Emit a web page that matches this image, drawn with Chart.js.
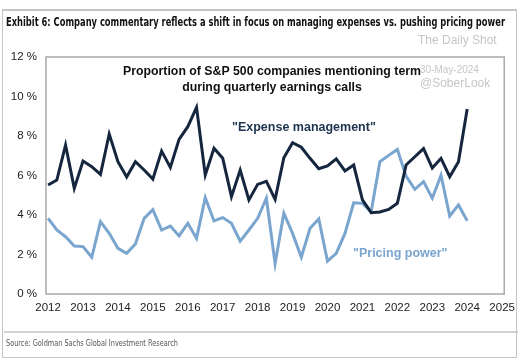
<!DOCTYPE html>
<html><head><meta charset="utf-8">
<script src="https://cdn.jsdelivr.net/npm/chart.js@4/dist/chart.umd.min.js"></script>
<style>
html,body{margin:0;padding:0;background:#fff;}
#wrap{position:relative;width:522px;height:360px;overflow:hidden;}
#frame{position:absolute;left:2px;top:9px;width:515px;height:349px;border:1.5px solid #c4c4c4;border-top-width:2px;box-sizing:border-box;}
#c{position:absolute;left:0;top:0;}
</style></head>
<body><div id="wrap"><div id="frame"></div><canvas id="c" width="522" height="360"></canvas></div>
<script>
const quarters = ['2012Q1','2012Q2','2012Q3','2012Q4','2013Q1','2013Q2','2013Q3','2013Q4','2014Q1','2014Q2','2014Q3','2014Q4',
'2015Q1','2015Q2','2015Q3','2015Q4','2016Q1','2016Q2','2016Q3','2016Q4','2017Q1','2017Q2','2017Q3','2017Q4',
'2018Q1','2018Q2','2018Q3','2018Q4','2019Q1','2019Q2','2019Q3','2019Q4','2020Q1','2020Q2','2020Q3','2020Q4',
'2021Q1','2021Q2','2021Q3','2021Q4','2022Q1','2022Q2','2022Q3','2022Q4','2023Q1','2023Q2','2023Q3','2023Q4','2024Q1'];
const expenseManagement = [5.52,5.77,7.54,5.35,6.73,6.45,6.06,8.10,6.70,5.92,6.70,6.28,
5.82,7.24,6.41,7.83,8.47,9.45,6.03,7.38,6.87,4.93,6.28,4.76,
5.55,5.70,4.79,6.90,7.66,7.43,6.87,6.34,6.48,6.84,6.23,6.53,
4.77,4.12,4.15,4.28,4.59,6.53,6.95,7.36,6.38,6.87,5.94,6.70,9.37];
const pricingPower = [3.83,3.24,2.90,2.43,2.40,1.86,3.66,3.07,2.31,2.06,2.53,3.83,
4.27,3.24,3.44,2.94,3.58,2.82,4.88,3.70,3.87,3.58,2.67,3.24,
3.83,4.85,1.54,4.09,3.07,1.86,3.33,3.80,1.66,2.06,3.07,4.62,
4.59,4.17,6.70,7.02,7.32,5.97,5.30,5.69,4.85,6.01,3.95,4.51,3.71];
const yearTicks = [2012,2013,2014,2015,2016,2017,2018,2019,2020,2021,2022,2023,2024,2025];
const yTicks = [0,2,4,6,8,10,12];

const qx = q => parseInt(q.slice(0,4)) + (parseInt(q.slice(5)) - 1) / 4;
const toPts = arr => quarters.map((q,i)=>({x:qx(q), y:arr[i]}));

const NAVY = '#15263e', LIGHT = '#7aa5cf';

function fitText(ctx, text, x, y, width){
  const w = ctx.measureText(text).width;
  ctx.save(); ctx.translate(x, y); ctx.scale(width/w, 1); ctx.fillText(text, 0, 0); ctx.restore();
}

const overlay = {
  id:'overlay',
  afterDraw(chart){
    const ctx = chart.ctx, a = chart.chartArea;
    ctx.save();
    ctx.strokeStyle = '#a9a9a9'; ctx.lineWidth = 1.5;
    ctx.strokeRect(a.left, a.top, a.right-a.left, a.bottom-a.top);
    // header title
    ctx.fillStyle = '#111';
    ctx.font = 'bold 12.5px "Liberation Sans Narrow", "DejaVu Sans Condensed", sans-serif';
    ctx.textBaseline = 'middle'; ctx.textAlign = 'left';
    fitText(ctx, 'Exhibit 6: Company commentary reflects a shift in focus on managing expenses vs. pushing pricing power', 6, 23, 499);
    // watermark
    ctx.fillStyle = '#c6c6c6';
    ctx.font = '12px "Liberation Sans", Arial, sans-serif';
    ctx.fillText('The Daily Shot', 418, 41);
    ctx.font = '10px "Liberation Sans", Arial, sans-serif';
    ctx.fillText('30-May-2024', 420, 70);
    ctx.font = '12px "Liberation Sans", Arial, sans-serif';
    ctx.fillText('@SoberLook', 420, 84);
    // inner title
    ctx.fillStyle = '#111'; ctx.textAlign = 'center';
    ctx.font = 'bold 12.3px "Liberation Sans", Arial, sans-serif';
    ctx.fillText('Proportion of S&P 500 companies mentioning term', 272, 72);
    ctx.fillText('during quarterly earnings calls', 272, 88);
    // annotations
    ctx.textAlign = 'left';
    ctx.font = 'bold 12.5px "Liberation Sans", Arial, sans-serif';
    ctx.fillStyle = '#1d3350';
    ctx.fillText('"Expense management"', 232, 128);
    ctx.fillStyle = LIGHT;
    ctx.fillText('"Pricing power"', 353, 254);
    // bottom separator and source
    ctx.strokeStyle = '#c4c4c4'; ctx.lineWidth = 1.5;
    ctx.beginPath(); ctx.moveTo(4, 332); ctx.lineTo(518, 332); ctx.stroke();
    ctx.fillStyle = '#555';
    ctx.font = '9.5px "Liberation Sans Narrow", "DejaVu Sans Condensed", sans-serif';
    fitText(ctx, 'Source: Goldman Sachs Global Investment Research', 6, 344, 172);
    ctx.restore();
  }
};

new Chart(document.getElementById('c'), {
  type:'line',
  data:{datasets:[
    {label:'Expense management', data:toPts(expenseManagement), borderColor:NAVY, borderWidth:3, pointRadius:0, tension:0, fill:false},
    {label:'Pricing power', data:toPts(pricingPower), borderColor:LIGHT, borderWidth:3, pointRadius:0, tension:0, fill:false}
  ]},
  options:{
    responsive:false, animation:false, devicePixelRatio:1,
    layout:{padding:{left:0, top:57, right:17, bottom:42}},
    plugins:{legend:{display:false}, tooltip:{enabled:false}},
    scales:{
      x:{type:'linear', min:2011.94, max:2025.06,
        afterBuildTicks:s=>{s.ticks = yearTicks.map(v=>({value:v}));},
        afterFit:s=>{s.height = 24;},
        grid:{display:false, drawTicks:false}, border:{display:false},
        ticks:{padding:7, maxRotation:0, autoSkip:false, color:'#222', font:{family:'"Liberation Sans", Arial, sans-serif', size:11.5}, callback:v=>String(v)}},
      y:{min:0, max:12,
        afterBuildTicks:s=>{s.ticks = yTicks.map(v=>({value:v}));},
        afterFit:s=>{s.width = 46;},
        grid:{display:false, drawTicks:false}, border:{display:false},
        ticks:{padding:9, color:'#222', font:{family:'"Liberation Sans", Arial, sans-serif', size:11.5}, callback:v=>v+' %'}}
    }
  },
  plugins:[overlay]
});
</script></body></html>
